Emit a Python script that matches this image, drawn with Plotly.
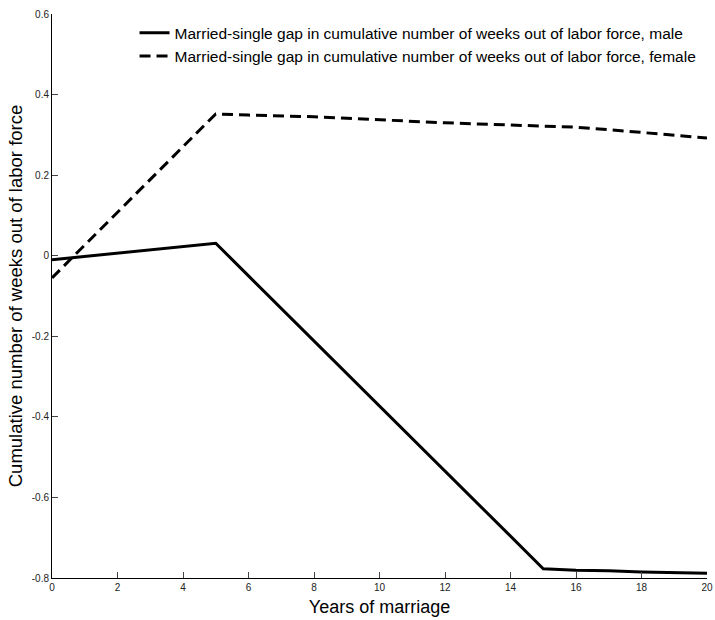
import plotly.graph_objects as go

years = list(range(0, 21))
male_gap = [-0.010, -0.002, 0.006, 0.014, 0.022, 0.031, -0.050, -0.131, -0.212, -0.293,
            -0.373, -0.454, -0.535, -0.615, -0.696, -0.777, -0.781, -0.782, -0.785, -0.787, -0.788]
female_gap = [-0.055, 0.026, 0.108, 0.189, 0.270, 0.352, 0.349, 0.347, 0.345, 0.341,
              0.337, 0.333, 0.330, 0.327, 0.324, 0.322, 0.319, 0.313, 0.306, 0.299, 0.292]

x_ticks = list(range(0, 21, 2))
y_ticks = [-0.8, -0.6, -0.4, -0.2, 0, 0.2, 0.4, 0.6]
y_tick_labels = ["-0.8", "-0.6", "-0.4", "-0.2", "0", "0.2", "0.4", "0.6"]

names = ["Married-single gap in cumulative number of weeks out of labor force, male",
         "Married-single gap in cumulative number of weeks out of labor force, female"]

fig = go.Figure()
fig.add_trace(go.Scatter(x=years, y=male_gap, mode="lines", name=names[0],
                         line=dict(color="black", width=3)))
fig.add_trace(go.Scatter(x=years, y=female_gap, mode="lines", name=names[1],
                         line=dict(color="black", width=3, dash="11px,6px")))

fig.update_layout(
    width=715, height=620,
    margin=dict(l=52, r=8, t=14, b=42),
    paper_bgcolor="white", plot_bgcolor="white",
    font=dict(family="Liberation Sans, Arial, sans-serif", color="black"),
    showlegend=True,
    legend=dict(x=0.126, y=0.996, xanchor="left", yanchor="top",
                bgcolor="rgba(0,0,0,0)", font=dict(size=15.5), tracegroupgap=0),
    xaxis=dict(range=[0, 20], tickvals=x_ticks, ticks="inside", ticklen=6,
               showline=True, linecolor="black", linewidth=1, showgrid=False, zeroline=False,
               ticklabeloverflow="allow", automargin=False,
               tickfont=dict(size=10, color="#222"),
               title=dict(text="Years of marriage", font=dict(size=18), standoff=8)),
    yaxis=dict(range=[-0.8, 0.6], tickvals=y_ticks, ticktext=y_tick_labels, ticks="inside", ticklen=6,
               showline=True, linecolor="black", linewidth=1, showgrid=False, zeroline=False,
               tickfont=dict(size=10, color="#222"),
               title=dict(text="Cumulative number of weeks out of labor force", font=dict(size=18.5), standoff=4)),
)

fig.write_html("out.html")
